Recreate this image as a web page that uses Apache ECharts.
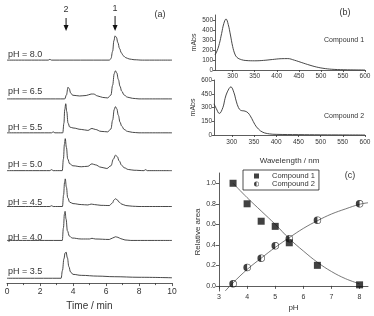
<!DOCTYPE html>
<html>
<head>
<meta charset="utf-8">
<script src="https://cdn.jsdelivr.net/npm/echarts@6/dist/echarts.min.js"></script>
<style>
html, body { margin: 0; padding: 0; background: #fff; }
#main { width: 374px; height: 316px; }
</style>
</head>
<body>
<div id="main"></div>
<script>
// (a) chromatograms: [time (min), signal above baseline]
var phLabels = ['pH = 8.0', 'pH = 6.5', 'pH = 5.5', 'pH = 5.0', 'pH = 4.5', 'pH = 4.0', 'pH = 3.5'];
var trace80 = [[0,0],[2.5,0],[2.6,0.8],[2.7,0],[6.2,0],[6.3,1.5],[6.4,9],[6.48,20],[6.55,25],[6.63,23.5],[6.72,18],[6.82,12],[6.93,7.5],[7.05,4.5],[7.2,2.5],[7.4,1.2],[7.7,0.4],[8.2,0],[10,0]];
var trace65 = [[0,0],[3.5,0],[3.6,4],[3.7,12],[3.77,10.5],[3.86,6],[3.98,3.8],[4.4,3],[4.8,3.5],[5.1,5],[5.25,5],[5.5,3],[5.8,1.5],[6.1,1],[6.3,4],[6.4,14],[6.5,26],[6.57,29],[6.65,27],[6.75,20],[6.85,13],[6.95,8],[7.1,4],[7.3,1.8],[7.6,0.6],[8,0],[10,0]];
var trace55 = [[0,0],[2.7,0],[2.8,1],[2.9,0],[3.38,0],[3.45,10],[3.5,24],[3.56,30],[3.62,22],[3.7,10],[3.8,6],[4.0,5],[4.5,3.5],[4.9,2.5],[5.15,4.5],[5.35,3.5],[5.7,1.5],[6.1,1],[6.3,4],[6.4,13],[6.5,24],[6.57,27],[6.65,25],[6.75,18],[6.85,11],[6.95,7],[7.1,3.5],[7.3,1.5],[7.6,0.5],[8,0],[10,0]];
var trace50 = [[0,0],[2.6,0],[2.7,1],[2.8,0],[3.35,0],[3.42,12],[3.48,27],[3.53,33],[3.6,24],[3.68,12],[3.8,7],[4.0,5],[4.5,4],[4.9,4.5],[5.15,7],[5.35,6],[5.7,3.5],[6.05,2.2],[6.3,5],[6.45,12],[6.58,16],[6.68,14.5],[6.8,10],[6.95,5.5],[7.1,3],[7.35,1.2],[7.7,0.4],[8.3,0],[8.4,1],[8.5,0],[10,0]];
var trace45 = [[0,0],[2.6,0],[2.7,0.8],[2.8,0],[3.36,0],[3.43,12],[3.49,25],[3.53,28.5],[3.6,20],[3.68,9],[3.8,4.5],[4.0,3],[4.5,2],[4.9,1.6],[5.1,2.5],[5.3,2],[5.7,1.2],[6.2,1],[6.38,3.5],[6.5,7],[6.57,8],[6.67,7],[6.8,4.5],[6.95,2.5],[7.2,1],[7.6,0.3],[8,0],[10,0]];
var trace40 = [[0,0],[3.35,0],[3.42,13],[3.48,27],[3.52,30],[3.58,22],[3.66,10],[3.78,4.5],[3.95,2.5],[4.5,1.5],[5.0,1.5],[5.15,2.2],[5.35,1.5],[6.2,1],[6.4,2.5],[6.58,3.8],[6.72,3.2],[6.9,1.8],[7.15,0.5],[7.5,0],[10,0]];
var trace35 = [[0,0],[3.28,0],[3.36,8],[3.45,20],[3.52,26],[3.58,27],[3.66,21],[3.75,12],[3.85,6.5],[4.0,4],[4.5,3],[5.5,2.2],[6.5,1.6],[8,1],[10,0.5]];

// (b) UV spectra: [wavelength (nm), mAbs]
var spectrum1 = [[260,150],[265,195],[270,265],[275,365],[280,465],[285,510],[290,455],[295,350],[300,235],[305,160],[310,125],[320,103],[330,95],[350,92],[370,96],[390,105],[410,113],[425,114],[440,98],[450,84],[470,55],[490,30],[510,14],[530,6],[560,2],[600,0]];
var spectrum2 = [[260,340],[265,290],[272,235],[280,300],[285,400],[290,470],[298,525],[305,460],[310,370],[315,300],[320,270],[330,260],[337,240],[345,180],[352,115],[360,65],[370,30],[385,12],[400,7],[450,4],[500,2],[600,0]];

// (c) relative peak area vs pH
var phValues = [3.5, 4.0, 4.5, 5.0, 5.5, 6.5, 8.0];
var area1 = [1.0, 0.80, 0.63, 0.58, 0.42, 0.20, 0.01];
var area2 = [0.02, 0.18, 0.27, 0.39, 0.46, 0.64, 0.80];
var fit1 = [[3.5,1.0],[4.0,0.86],[4.5,0.73],[5.0,0.60],[5.5,0.46],[6.0,0.34],[6.5,0.23],[7.0,0.14],[7.5,0.07],[8.0,0.02]];
var fit2 = [[3.22,-0.05],[3.5,0.03],[4.0,0.16],[4.5,0.27],[5.0,0.375],[5.5,0.47],[6.0,0.56],[6.5,0.635],[7.0,0.70],[7.5,0.75],[8.0,0.795],[8.3,0.81]];

var timeTicks = [0, 2, 4, 6, 8, 10];
var nmTicks = [300, 350, 400, 450, 500, 550, 600];
var mAbsTicks1 = [0, 100, 200, 300, 400, 500];
var mAbsTicks2 = [0, 150, 300, 450, 600];
var areaTicks = [0, 0.2, 0.4, 0.6, 0.8, 1.0];
var phTicks = [3, 4, 5, 6, 7, 8];

// layout
var traces = [trace80, trace65, trace55, trace50, trace45, trace40, trace35];
var traceOffset = [230, 190, 155, 116, 79, 44, 5];
var labelY = [55, 92, 128, 165, 203, 238, 272];

var ink = '#333';
var font = 'Liberation Sans, Arial, sans-serif';
var halfCircle = 'path://M10,0 A10,10 0 1,1 10,20 A10,10 0 1,1 10,0 Z M10,1.6 A8.4,8.4 0 1,0 10,18.4 A8.4,8.4 0 1,0 10,1.6 Z M10,1.6 A8.4,8.4 0 0,0 10,18.4 Z';

var chart = echarts.init(document.getElementById('main'));

function axisBase(extra) {
    var a = {
        axisLine: { show: true, lineStyle: { color: ink, width: 0.8 } },
        axisTick: { show: true, length: 3, lineStyle: { color: ink, width: 0.8 } },
        axisLabel: { color: ink, fontSize: 7, fontFamily: font, margin: 3 },
        splitLine: { show: false },
        nameTextStyle: { color: ink, fontFamily: font, fontSize: 8 }
    };
    for (var k in extra) a[k] = extra[k];
    return a;
}

var series = [];
traces.forEach(function (tr, i) {
    series.push({
        type: 'line', xAxisIndex: 0, yAxisIndex: 0,
        data: tr.map(function (p) { return [p[0], p[1] + traceOffset[i]]; }),
        showSymbol: false, smooth: 0.4, smoothMonotone: 'x',
        lineStyle: { color: ink, width: 0.9 }, silent: true
    });
});
series.push({
    type: 'line', xAxisIndex: 1, yAxisIndex: 1, data: spectrum1,
    showSymbol: false, smooth: 0.4, lineStyle: { color: ink, width: 0.9 }
});
series.push({
    type: 'line', xAxisIndex: 2, yAxisIndex: 2, data: spectrum2,
    showSymbol: false, smooth: 0.4, lineStyle: { color: ink, width: 0.9 }
});
series.push({
    type: 'line', xAxisIndex: 3, yAxisIndex: 3, data: fit1,
    showSymbol: false, smooth: 0.4, lineStyle: { color: '#555', width: 0.8 }
});
series.push({
    type: 'line', xAxisIndex: 3, yAxisIndex: 3, data: fit2,
    showSymbol: false, smooth: 0.4, lineStyle: { color: '#555', width: 0.8 }
});
series.push({
    name: 'Compound 1', type: 'scatter', xAxisIndex: 3, yAxisIndex: 3,
    data: phValues.map(function (x, i) { return [x, area1[i]]; }),
    symbol: 'rect', symbolSize: 7, itemStyle: { color: '#111' }, z: 5
});
series.push({
    name: 'Compound 2', type: 'scatter', xAxisIndex: 3, yAxisIndex: 3,
    data: phValues.map(function (x, i) { return [x, area2[i]]; }),
    symbol: halfCircle, symbolSize: 7.5, itemStyle: { color: '#111' }, z: 5
});

option = {
    backgroundColor: '#fff',
    animation: false,
    textStyle: { fontFamily: font },
    grid: [
        { left: 7, top: 0, width: 165, height: 292 },
        { left: 215, top: 15, width: 150, height: 55 },
        { left: 214, top: 80, width: 151, height: 55 },
        { left: 219, top: 173, width: 149, height: 118 }
    ],
    xAxis: [
        axisBase({ gridIndex: 0, type: 'value', min: 0, max: 10, interval: 2,
            name: 'Time / min', nameLocation: 'middle', nameGap: 11,
            nameTextStyle: { color: ink, fontFamily: font, fontSize: 10 },
            axisLabel: { color: ink, fontSize: 8.5, fontFamily: font, margin: 4,
                customValues: timeTicks },
            minorTick: { show: true, splitNumber: 2, length: 2, lineStyle: { color: ink, width: 0.8 } } }),
        axisBase({ gridIndex: 1, type: 'value', min: 260, max: 600,
            axisTick: { show: true, length: 2, customValues: nmTicks, lineStyle: { color: ink, width: 0.8 } },
            axisLabel: { color: ink, fontSize: 6.5, fontFamily: font, margin: 3, customValues: nmTicks } }),
        axisBase({ gridIndex: 2, type: 'value', min: 260, max: 600,
            name: 'Wavelength / nm', nameLocation: 'middle', nameGap: 22,
            axisTick: { show: true, length: 2, customValues: nmTicks, lineStyle: { color: ink, width: 0.8 } },
            axisLabel: { color: ink, fontSize: 6.5, fontFamily: font, margin: 4, customValues: nmTicks } }),
        axisBase({ gridIndex: 3, type: 'value', min: 3, max: 8.3,
            name: 'pH', nameLocation: 'middle', nameGap: 13,
            axisTick: { show: true, length: 3, customValues: phTicks, lineStyle: { color: ink, width: 0.8 } },
            axisLabel: { color: ink, fontSize: 7, fontFamily: font, margin: 3, customValues: phTicks } })
    ],
    yAxis: [
        { gridIndex: 0, type: 'value', min: 0, max: 292, show: false },
        axisBase({ gridIndex: 1, type: 'value', min: 0, max: 550,
            name: 'mAbs', nameLocation: 'middle', nameGap: 17,
            nameTextStyle: { color: ink, fontFamily: font, fontSize: 7 },
            axisTick: { show: true, length: 2, customValues: mAbsTicks1, lineStyle: { color: ink, width: 0.8 } },
            axisLabel: { color: ink, fontSize: 6.5, fontFamily: font, margin: 2, customValues: mAbsTicks1 } }),
        axisBase({ gridIndex: 2, type: 'value', min: 0, max: 600,
            name: 'mAbs', nameLocation: 'middle', nameGap: 17,
            nameTextStyle: { color: ink, fontFamily: font, fontSize: 7 },
            axisTick: { show: true, length: 2, customValues: mAbsTicks2, lineStyle: { color: ink, width: 0.8 } },
            axisLabel: { color: ink, fontSize: 6.5, fontFamily: font, margin: 2, customValues: mAbsTicks2 } }),
        axisBase({ gridIndex: 3, type: 'value', min: -0.05, max: 1.1,
            name: 'Relative area', nameLocation: 'middle', nameGap: 17,
            axisTick: { show: true, length: 3, customValues: areaTicks, lineStyle: { color: ink, width: 0.8 } },
            axisLabel: { color: ink, fontSize: 7, fontFamily: font, margin: 3, customValues: areaTicks,
                formatter: function (v) { return v.toFixed(1); } } })
    ],
    legend: {
        orient: 'vertical', left: 243, top: 170,
        padding: [2, 4, 2, 11], itemGap: 0, itemWidth: 5, itemHeight: 5,
        borderColor: '#222', borderWidth: 0.8,
        textStyle: { color: ink, fontSize: 7.5, fontFamily: font, padding: [0, 0, 0, 8] },
        data: [
            { name: 'Compound 1', icon: 'rect' },
            { name: 'Compound 2', icon: halfCircle }
        ]
    },
    series: series
};
chart.setOption(option);

// annotations (text labels, arrows) placed with the chart's own scale
var g = [];
phLabels.forEach(function (t, i) {
    g.push({ type: 'text', left: 8, top: labelY[i] - 5,
        style: { text: t, fill: ink, font: '9px ' + font } });
});
[[3.58, '2', 10, 18], [6.55, '1', 9, 16]].forEach(function (a) {
    var x = chart.convertToPixel({ xAxisIndex: 0 }, a[0]);
    g.push({ type: 'text', x: x, y: a[2], style: { text: a[1], fill: ink, font: '9px ' + font, align: 'center', verticalAlign: 'middle' } });
    g.push({ type: 'line', shape: { x1: x, y1: a[3], x2: x, y2: 29 }, style: { stroke: '#111', lineWidth: 1 } });
    g.push({ type: 'polygon', shape: { points: [[x - 2.5, 25], [x + 2.5, 25], [x, 31]] }, style: { fill: '#111' } });
});
g.push({ type: 'text', x: 160, y: 15, style: { text: '(a)', fill: ink, font: '9px ' + font, align: 'center', verticalAlign: 'middle' } });
g.push({ type: 'text', x: 345, y: 13, style: { text: '(b)', fill: ink, font: '9px ' + font, align: 'center', verticalAlign: 'middle' } });
g.push({ type: 'text', x: 350, y: 176, style: { text: '(c)', fill: ink, font: '9px ' + font, align: 'center', verticalAlign: 'middle' } });
g.push({ type: 'text', x: 344, y: 40, style: { text: 'Compound 1', fill: ink, font: '7px ' + font, align: 'center', verticalAlign: 'middle' } });
g.push({ type: 'text', x: 344, y: 116, style: { text: 'Compound 2', fill: ink, font: '7px ' + font, align: 'center', verticalAlign: 'middle' } });
chart.setOption({ graphic: g });
</script>
</body>
</html>
